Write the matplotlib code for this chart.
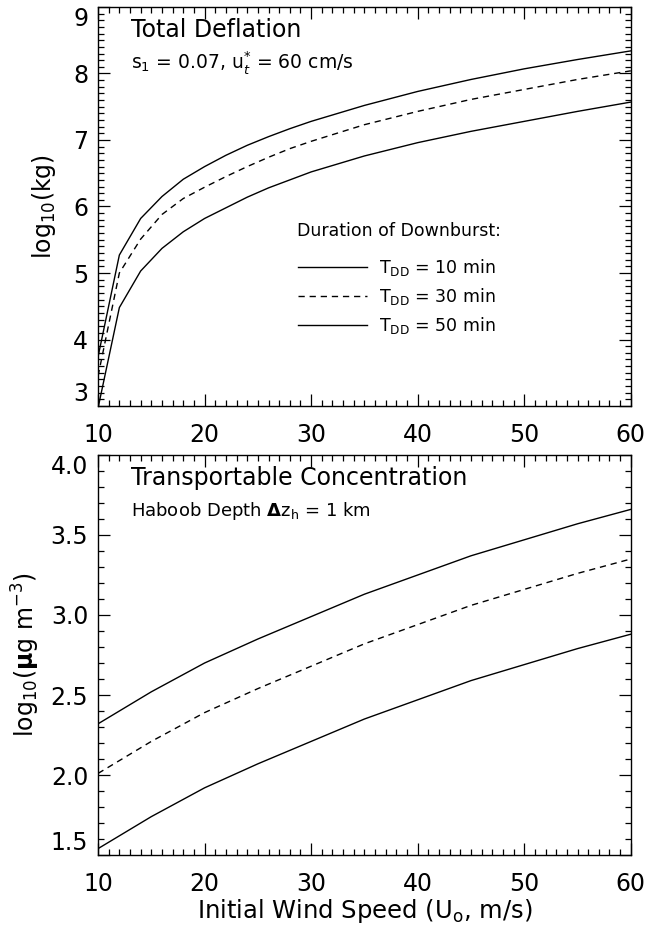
import numpy as np
import matplotlib
matplotlib.use("Agg")
import matplotlib.pyplot as plt
from matplotlib.ticker import MultipleLocator, FormatStrFormatter

# Wind speed samples (m/s)
speed_top = [10, 12, 14, 16, 18, 20, 22, 24, 26, 28, 30, 35, 40, 45, 50, 55, 60]
# log10 total deflation (kg) for each downburst duration
defl_10 = [2.97, 4.48, 5.03, 5.37, 5.62, 5.82, 5.98, 6.14, 6.28, 6.40, 6.52,
           6.76, 6.96, 7.13, 7.28, 7.43, 7.57]
defl_30 = [3.45, 5.00, 5.51, 5.88, 6.12, 6.29, 6.45, 6.60, 6.74, 6.87, 6.98,
           7.23, 7.43, 7.61, 7.76, 7.91, 8.04]
defl_50 = [3.74, 5.27, 5.82, 6.15, 6.41, 6.60, 6.77, 6.92, 7.05, 7.17, 7.28,
           7.52, 7.73, 7.91, 8.07, 8.21, 8.34]

speed_bot = [10, 15, 20, 25, 30, 35, 40, 45, 50, 55, 60]
# log10 transportable concentration (ug m^-3)
conc_10 = [1.54, 1.74, 1.92, 2.07, 2.21, 2.35, 2.47, 2.59, 2.69, 2.79, 2.88]
conc_30 = [2.01, 2.21, 2.39, 2.54, 2.68, 2.82, 2.94, 3.06, 3.16, 3.26, 3.35]
conc_50 = [2.32, 2.52, 2.70, 2.85, 2.99, 3.13, 3.25, 3.37, 3.47, 3.57, 3.66]

durations = ["10", "30", "50"]

plt.rcParams['font.family'] = ['DejaVu Sans']
plt.rcParams['mathtext.fontset'] = 'dejavusans'

fig = plt.figure(figsize=(6.45, 9.31), dpi=100)
ax1 = fig.add_axes([0.152, 0.5639, 0.826, 0.4286])
ax2 = fig.add_axes([0.152, 0.0816, 0.826, 0.4297])

lw = 1.0
dash = (0, (4.5, 3.5))


def style_axes(ax, ymajor, yminor):
    ax.set_xlim(10, 60)
    ax.xaxis.set_major_locator(MultipleLocator(10))
    ax.xaxis.set_minor_locator(MultipleLocator(1))
    ax.yaxis.set_major_locator(MultipleLocator(ymajor))
    ax.yaxis.set_minor_locator(MultipleLocator(yminor))
    ax.tick_params(which='both', direction='in', top=True, right=True,
                   width=0.9, colors='black')
    ax.tick_params(which='major', length=8.5)
    ax.tick_params(which='minor', length=4.3)
    ax.tick_params(axis='x', which='major', labelsize=17, pad=12)
    ax.tick_params(axis='y', which='major', labelsize=17, pad=7)
    for s in ax.spines.values():
        s.set_linewidth(1.0)


# Top panel
l10, = ax1.plot(speed_top, defl_10, color='black', lw=lw)
l30, = ax1.plot(speed_top, defl_30, color='black', lw=lw, linestyle=dash)
l50, = ax1.plot(speed_top, defl_50, color='black', lw=lw)
ax1.set_ylim(3, 9)
style_axes(ax1, 1, 0.1)
ax1.set_ylabel(r"log$_{10}$(kg)", fontsize=17)
ax1.yaxis.set_label_coords(-0.075, 0.5)
ax1.text(0.062, 0.943, "Total Deflation", transform=ax1.transAxes,
         fontsize=17, va='center', ha='left')
ax1.text(0.062, 0.86, r"s$_1$ = 0.07, u$^{*}_{t}$ = 60 cm/s",
         transform=ax1.transAxes, fontsize=13.5, va='center', ha='left')
ax1.text(0.373, 0.438, "Duration of Downburst:", transform=ax1.transAxes,
         fontsize=12.5, va='center', ha='left')
ax1.legend([l10, l30, l50],
           [r"T$_{\rm DD}$ = %s min" % d for d in durations],
           loc='upper left', bbox_to_anchor=(0.362, 0.39),
           frameon=False, fontsize=12.5, handlelength=4.0,
           handletextpad=0.7, labelspacing=0.45, borderaxespad=0)

# Bottom panel
ax2.plot(speed_bot, conc_10, color='black', lw=lw)
ax2.plot(speed_bot, conc_30, color='black', lw=lw, linestyle=dash)
ax2.plot(speed_bot, conc_50, color='black', lw=lw)
ax2.set_ylim(1.5, 4.0)
style_axes(ax2, 0.5, 0.1)
ax2.yaxis.set_major_formatter(FormatStrFormatter('%.1f'))
ax2.set_ylabel(r"log$_{10}$($\mathbf{\mu}$g m$^{-3}$)", fontsize=17)
ax2.yaxis.set_label_coords(-0.105, 0.5)
ax2.set_xlabel(r"Initial Wind Speed (U$_{\rm o}$, m/s)", fontsize=17.5)
ax2.xaxis.set_label_coords(0.5, -0.105)
ax2.text(0.062, 0.943, "Transportable Concentration", transform=ax2.transAxes,
         fontsize=17, va='center', ha='left')
ax2.text(0.062, 0.86, r"Haboob Depth $\mathbf{\Delta}$z$_{\rm h}$ = 1 km",
         transform=ax2.transAxes, fontsize=13, va='center', ha='left')

# keep end labels of the y axes inside the frame, as in the original
fig.canvas.draw()
for ax, lo, hi in [(ax1, "3", "9"), (ax2, "1.5", "4.0")]:
    for lab in ax.get_yticklabels():
        if lab.get_text() == hi:
            lab.set_va('top')
        elif lab.get_text() == lo:
            lab.set_va('bottom')

fig.savefig("out.png", dpi=100)
